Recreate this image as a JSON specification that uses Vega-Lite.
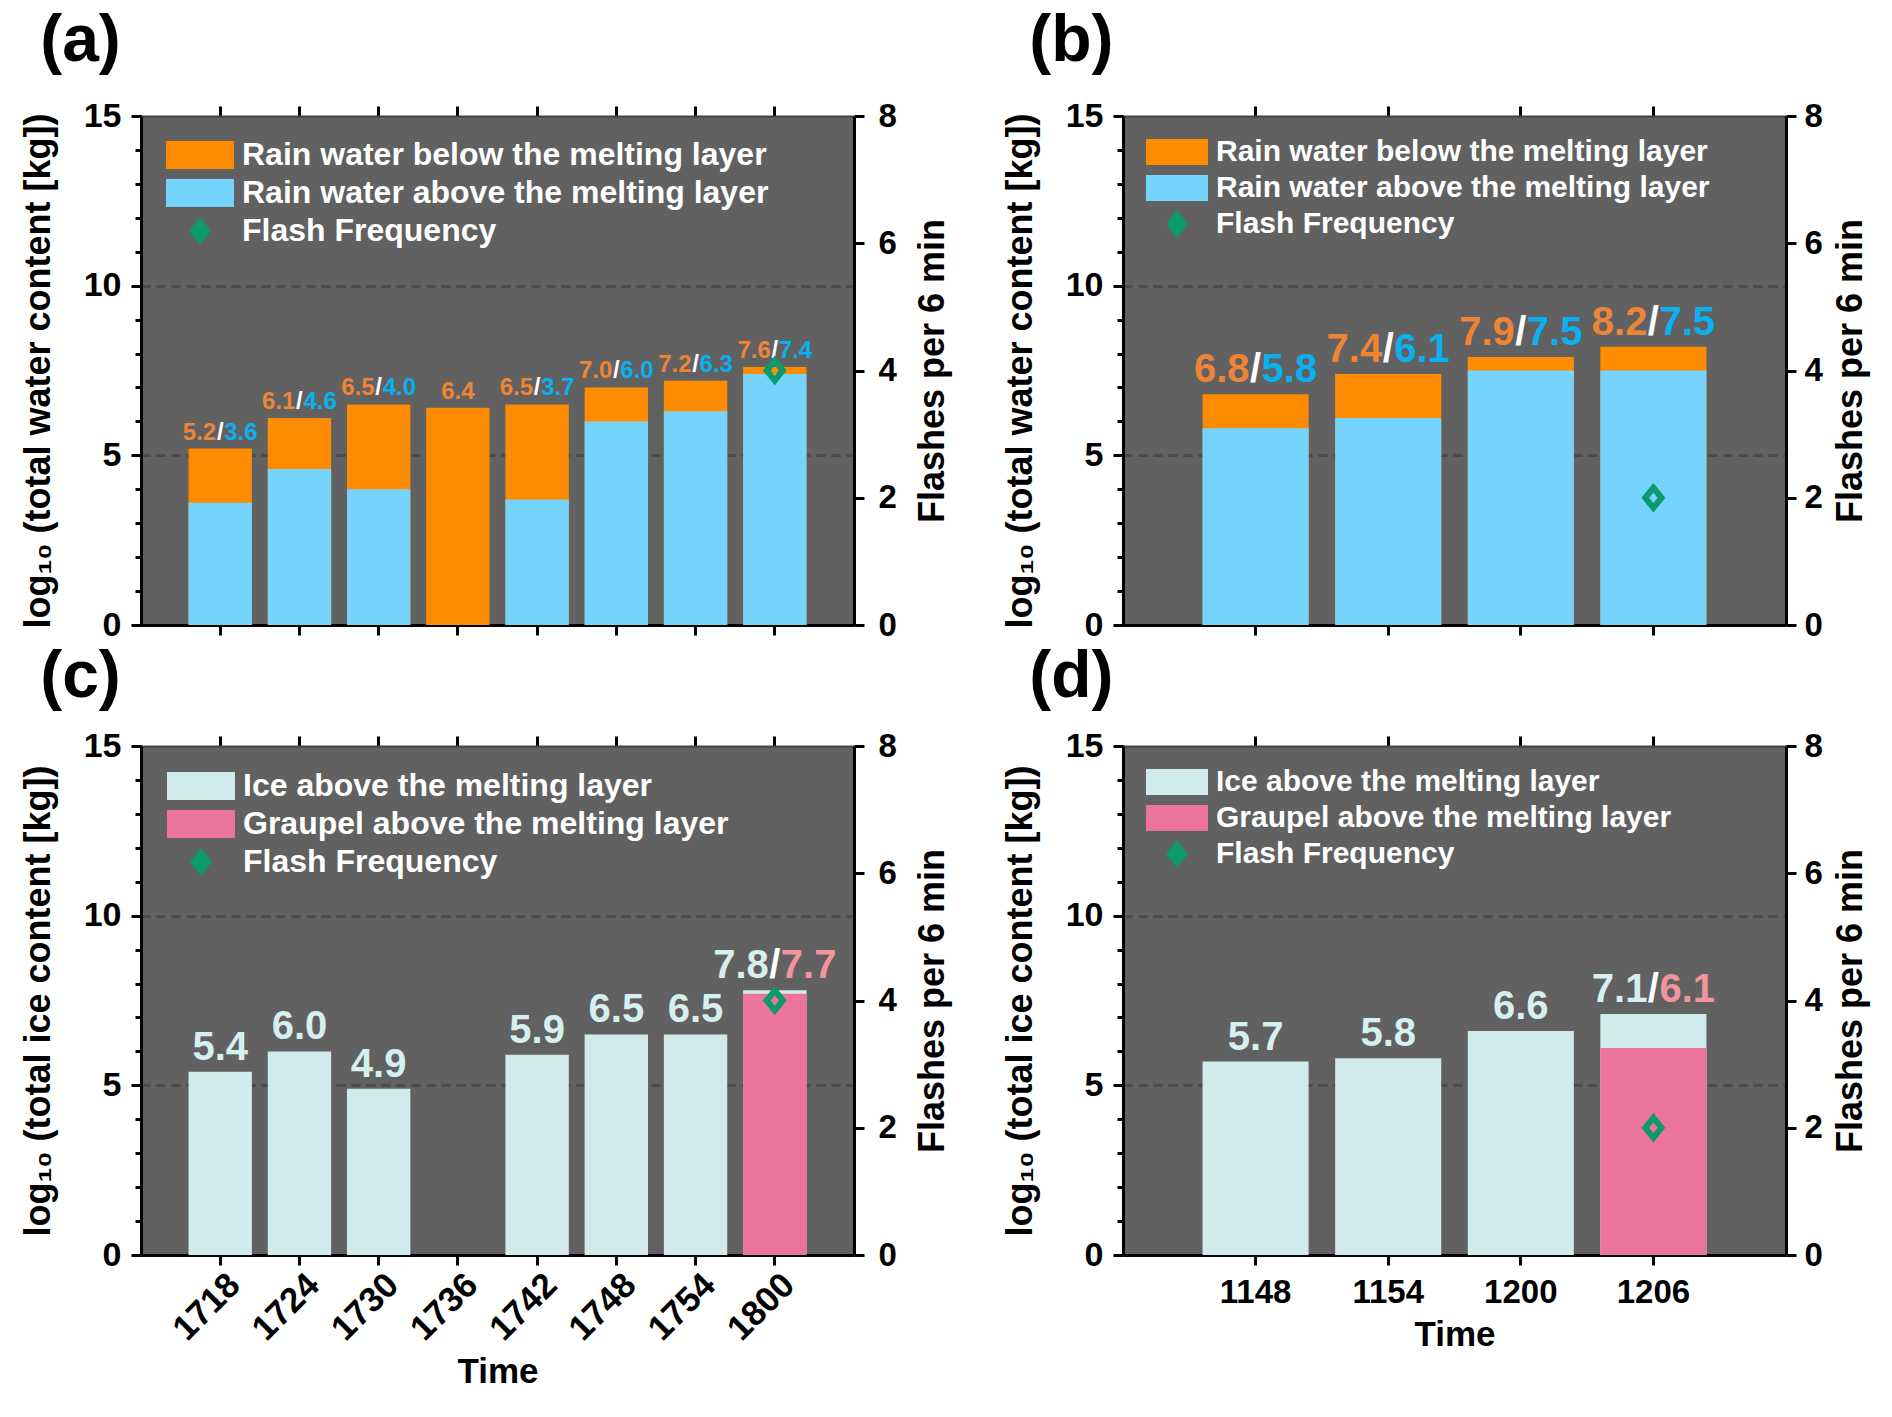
{
  "$schema": "https://vega.github.io/schema/vega-lite/v6.json",
  "background": "white",
  "padding": {"left": 20, "top": 8, "right": 5, "bottom": 5},
  "datasets": {
    "a": [
      {"time": "1718", "series": "Rain water below the melting layer", "value": 5.2},
      {"time": "1718", "series": "Rain water above the melting layer", "value": 3.6},
      {"time": "1724", "series": "Rain water below the melting layer", "value": 6.1},
      {"time": "1724", "series": "Rain water above the melting layer", "value": 4.6},
      {"time": "1730", "series": "Rain water below the melting layer", "value": 6.5},
      {"time": "1730", "series": "Rain water above the melting layer", "value": 4.0},
      {"time": "1736", "series": "Rain water below the melting layer", "value": 6.4},
      {"time": "1742", "series": "Rain water below the melting layer", "value": 6.5},
      {"time": "1742", "series": "Rain water above the melting layer", "value": 3.7},
      {"time": "1748", "series": "Rain water below the melting layer", "value": 7.0},
      {"time": "1748", "series": "Rain water above the melting layer", "value": 6.0},
      {"time": "1754", "series": "Rain water below the melting layer", "value": 7.2},
      {"time": "1754", "series": "Rain water above the melting layer", "value": 6.3},
      {"time": "1800", "series": "Rain water below the melting layer", "value": 7.6},
      {"time": "1800", "series": "Rain water above the melting layer", "value": 7.4}
    ],
    "a_flash": [{"time": "1800", "series": "Flash Frequency", "flash": 4}],
    "b": [
      {"time": "1148", "series": "Rain water below the melting layer", "value": 6.8},
      {"time": "1148", "series": "Rain water above the melting layer", "value": 5.8},
      {"time": "1154", "series": "Rain water below the melting layer", "value": 7.4},
      {"time": "1154", "series": "Rain water above the melting layer", "value": 6.1},
      {"time": "1200", "series": "Rain water below the melting layer", "value": 7.9},
      {"time": "1200", "series": "Rain water above the melting layer", "value": 7.5},
      {"time": "1206", "series": "Rain water below the melting layer", "value": 8.2},
      {"time": "1206", "series": "Rain water above the melting layer", "value": 7.5}
    ],
    "b_flash": [{"time": "1206", "series": "Flash Frequency", "flash": 2}],
    "c": [
      {"time": "1718", "series": "Ice above the melting layer", "value": 5.4},
      {"time": "1724", "series": "Ice above the melting layer", "value": 6.0},
      {"time": "1730", "series": "Ice above the melting layer", "value": 4.9},
      {"time": "1742", "series": "Ice above the melting layer", "value": 5.9},
      {"time": "1748", "series": "Ice above the melting layer", "value": 6.5},
      {"time": "1754", "series": "Ice above the melting layer", "value": 6.5},
      {"time": "1800", "series": "Ice above the melting layer", "value": 7.8},
      {"time": "1800", "series": "Graupel above the melting layer", "value": 7.7}
    ],
    "c_flash": [{"time": "1800", "series": "Flash Frequency", "flash": 4}],
    "d": [
      {"time": "1148", "series": "Ice above the melting layer", "value": 5.7},
      {"time": "1154", "series": "Ice above the melting layer", "value": 5.8},
      {"time": "1200", "series": "Ice above the melting layer", "value": 6.6},
      {"time": "1206", "series": "Ice above the melting layer", "value": 7.1},
      {"time": "1206", "series": "Graupel above the melting layer", "value": 6.1}
    ],
    "d_flash": [{"time": "1206", "series": "Flash Frequency", "flash": 2}]
  },
  "config": {
    "view": {"fill": "#616161", "stroke": null},
    "font": "Liberation Sans, Arial, sans-serif",
    "axis": {
      "labelFont": "Liberation Sans, Arial, sans-serif", "labelFontSize": 30, "labelFontWeight": "bold", "labelColor": "black",
      "titleFont": "Liberation Sans, Arial, sans-serif", "titleFontSize": 36, "titleFontWeight": "bold", "titleColor": "black",
      "domainColor": "black", "domainWidth": 3, "tickColor": "black", "tickWidth": 3, "tickSize": 10,
      "labelPadding": 10, "grid": false, "labelOverlap": false, "labelFlush": false
    }
  },
  "columns": 2,
  "spacing": {"row": 2, "column": 51},
  "resolve": {"scale": {"color": "independent"}},
  "concat": [
    {
      "width": 713, "height": 509,
      "title": {"text": "(a)", "anchor": "start", "frame": "bounds", "fontSize": 66, "fontWeight": "bold", "color": "black", "offset": 24, "dx": 20},
      "layer": [
        {
          "data": {"name": "a"},
          "transform": [{"joinaggregate": [{"op": "max", "field": "value", "as": "top"}, {"op": "count", "as": "n"}], "groupby": ["time"]}],
          "encoding": {"x": {"field": "time", "type": "nominal", "scale": {"domain": ["1718","1724","1730","1736","1742","1748","1754","1800"], "paddingInner": 0.2, "paddingOuter": 0.6}, "axis": {"orient": "bottom", "labels": false, "title": null}}},
          "layer": [
            {
              "mark": {"type": "bar"},
              "encoding": {
                "y": {"field": "value", "type": "quantitative", "stack": null, "scale": {"domain": [0, 15], "nice": false},
                  "axis": {"title": "log₁₀ (total water content [kg])", "orient": "left", "values": [0, 5, 10, 15], "labelFontSize": 34, "labelFontWeight": "bold", "titlePadding": 26}},
                "color": {"field": "series", "type": "nominal",
                  "scale": {"domain": ["Rain water below the melting layer", "Rain water above the melting layer", "Flash Frequency"], "range": ["#ff8c00", "#75d4fb", "#0b9a6c"]},
                  "legend": {"title": null, "orient": "top-left", "offset": 23, "padding": 0, "labelFontSize": 32, "labelFontWeight": "bold", "labelColor": "white", "labelLimit": 0, "symbolSize": 784, "labelOffset": 46, "rowPadding": 6,
                    "encode": {"symbols": {"update": {
                      "shape": {"signal": "datum.value === 'Flash Frequency' ? 'M1.43,-1L2.22,0L1.43,1L0.64,0Z' : 'M-1,-1H3.857V1H-1Z'"},
                      "size": {"value": 784},
                      "fill": {"signal": "datum.value === 'Rain water below the melting layer' ? '#ff8c00' : datum.value === 'Rain water above the melting layer' ? '#75d4fb' : '#0b9a6c'"},
                      "fillOpacity": {"value": 1}, "strokeWidth": {"value": 0}, "opacity": {"value": 1}}}}}}
              }
            },
            {
              "transform": [{"filter": "datum.series === 'Rain water below the melting layer' && datum.n === 1"}],
              "mark": {"type": "text", "align": "center", "baseline": "alphabetic", "dy": -9, "fontSize": 24, "fontWeight": "bold", "color": "#ee8536"},
              "encoding": {"y": {"field": "top", "type": "quantitative", "scale": {"domain": [0, 15], "nice": false}, "axis": null}, "text": {"field": "value", "type": "quantitative", "format": ".1f"}}
            },
            {
              "transform": [{"filter": "datum.series === 'Rain water below the melting layer' && datum.n === 2"}],
              "mark": {"type": "text", "align": "right", "baseline": "alphabetic", "dx": -4, "dy": -9, "fontSize": 24, "fontWeight": "bold", "color": "#ee8536"},
              "encoding": {"y": {"field": "top", "type": "quantitative", "scale": {"domain": [0, 15], "nice": false}, "axis": {"orient": "left", "values": [5, 10], "labels": false, "domain": false, "ticks": false, "title": null, "grid": true, "gridDash": [9, 6], "gridColor": "#4b4b4b", "gridWidth": 3}}, "text": {"field": "value", "type": "quantitative", "format": ".1f"}}
            },
            {
              "transform": [{"filter": "datum.series === 'Rain water below the melting layer' && datum.n === 2"}],
              "mark": {"type": "text", "align": "center", "baseline": "alphabetic", "dy": -9, "fontSize": 24, "fontWeight": "bold", "color": "white"},
              "encoding": {"y": {"field": "top", "type": "quantitative", "scale": {"domain": [0, 15], "nice": false}, "axis": {"orient": "left", "values": [0,1,2,3,4,5,6,7,8,9,10,11,12,13,14,15], "labels": false, "domain": false, "tickSize": 6, "title": null, "grid": false}}, "text": {"value": "/"}}
            },
            {
              "transform": [{"filter": "datum.series === 'Rain water above the melting layer'"}],
              "mark": {"type": "text", "align": "left", "baseline": "alphabetic", "dx": 4, "dy": -9, "fontSize": 24, "fontWeight": "bold", "color": "#0ab0f0"},
              "encoding": {"y": {"field": "top", "type": "quantitative", "scale": {"domain": [0, 15], "nice": false}, "axis": null}, "text": {"field": "value", "type": "quantitative", "format": ".1f"}}
            }
          ],
          "resolve": {"axis": {"y": "independent"}}
        },
        {
          "data": {"name": "a_flash"},
          "mark": {"type": "point", "shape": "M0,-0.72L0.58,0L0,0.72L-0.58,0Z", "size": 784, "filled": false, "strokeWidth": 6, "opacity": 1},
          "encoding": {
            "x": {"field": "time", "type": "nominal", "axis": {"orient": "top", "labels": false, "title": null, "domainColor": "#444444", "domainWidth": 2}},
            "y": {"field": "flash", "type": "quantitative", "scale": {"domain": [0, 8], "nice": false}, "axis": {"orient": "right", "values": [0, 2, 4, 6, 8], "labelFontSize": 33, "labelPadding": 14, "title": "Flashes per 6 min", "titleAngle": 270, "titleBaseline": "top", "titlePadding": 19}},
            "color": {"field": "series", "type": "nominal"}
          }
        }
      ],
      "resolve": {"scale": {"y": "independent"}, "axis": {"x": "independent", "y": "independent"}}
    },
    {
      "width": 663, "height": 509,
      "title": {"text": "(b)", "anchor": "start", "frame": "bounds", "fontSize": 66, "fontWeight": "bold", "color": "black", "offset": 24, "dx": 27},
      "layer": [
        {
          "data": {"name": "b"},
          "transform": [{"joinaggregate": [{"op": "max", "field": "value", "as": "top"}, {"op": "count", "as": "n"}], "groupby": ["time"]}],
          "encoding": {"x": {"field": "time", "type": "nominal", "scale": {"domain": ["1148","1154","1200","1206"], "paddingInner": 0.2, "paddingOuter": 0.6}, "axis": {"orient": "bottom", "labels": false, "title": null}}},
          "layer": [
            {
              "mark": {"type": "bar"},
              "encoding": {
                "y": {"field": "value", "type": "quantitative", "stack": null, "scale": {"domain": [0, 15], "nice": false},
                  "axis": {"title": "log₁₀ (total water content [kg])", "orient": "left", "values": [0, 5, 10, 15], "labelFontSize": 34, "labelFontWeight": "bold", "titlePadding": 26}},
                "color": {"field": "series", "type": "nominal",
                  "scale": {"domain": ["Rain water below the melting layer", "Rain water above the melting layer", "Flash Frequency"], "range": ["#ff8c00", "#75d4fb", "#0b9a6c"]},
                  "legend": {"title": null, "orient": "top-left", "offset": 21, "padding": 0, "labelFontSize": 30, "labelFontWeight": "bold", "labelColor": "white", "labelLimit": 0, "symbolSize": 676, "labelOffset": 42, "rowPadding": 6,
                    "encode": {"symbols": {"update": {
                      "shape": {"signal": "datum.value === 'Flash Frequency' ? 'M1.385,-1.077L2.23,0L1.385,1.077L0.54,0Z' : 'M-1,-1H3.77V1H-1Z'"},
                      "size": {"value": 676},
                      "fill": {"signal": "datum.value === 'Rain water below the melting layer' ? '#ff8c00' : datum.value === 'Rain water above the melting layer' ? '#75d4fb' : '#0b9a6c'"},
                      "fillOpacity": {"value": 1}, "strokeWidth": {"value": 0}, "opacity": {"value": 1}}}}}}
              }
            },
            {
              "transform": [{"filter": "datum.series === 'Rain water below the melting layer' && datum.n === 1"}],
              "mark": {"type": "text", "align": "center", "baseline": "alphabetic", "dy": -12, "fontSize": 40, "fontWeight": "bold", "color": "#ee8536"},
              "encoding": {"y": {"field": "top", "type": "quantitative", "scale": {"domain": [0, 15], "nice": false}, "axis": null}, "text": {"field": "value", "type": "quantitative", "format": ".1f"}}
            },
            {
              "transform": [{"filter": "datum.series === 'Rain water below the melting layer' && datum.n === 2"}],
              "mark": {"type": "text", "align": "right", "baseline": "alphabetic", "dx": -6, "dy": -12, "fontSize": 40, "fontWeight": "bold", "color": "#ee8536"},
              "encoding": {"y": {"field": "top", "type": "quantitative", "scale": {"domain": [0, 15], "nice": false}, "axis": {"orient": "left", "values": [5, 10], "labels": false, "domain": false, "ticks": false, "title": null, "grid": true, "gridDash": [9, 6], "gridColor": "#4b4b4b", "gridWidth": 3}}, "text": {"field": "value", "type": "quantitative", "format": ".1f"}}
            },
            {
              "transform": [{"filter": "datum.series === 'Rain water below the melting layer' && datum.n === 2"}],
              "mark": {"type": "text", "align": "center", "baseline": "alphabetic", "dy": -12, "fontSize": 40, "fontWeight": "bold", "color": "white"},
              "encoding": {"y": {"field": "top", "type": "quantitative", "scale": {"domain": [0, 15], "nice": false}, "axis": {"orient": "left", "values": [0,1,2,3,4,5,6,7,8,9,10,11,12,13,14,15], "labels": false, "domain": false, "tickSize": 6, "title": null, "grid": false}}, "text": {"value": "/"}}
            },
            {
              "transform": [{"filter": "datum.series === 'Rain water above the melting layer'"}],
              "mark": {"type": "text", "align": "left", "baseline": "alphabetic", "dx": 6, "dy": -12, "fontSize": 40, "fontWeight": "bold", "color": "#0ab0f0"},
              "encoding": {"y": {"field": "top", "type": "quantitative", "scale": {"domain": [0, 15], "nice": false}, "axis": null}, "text": {"field": "value", "type": "quantitative", "format": ".1f"}}
            }
          ],
          "resolve": {"axis": {"y": "independent"}}
        },
        {
          "data": {"name": "b_flash"},
          "mark": {"type": "point", "shape": "M0,-0.72L0.58,0L0,0.72L-0.58,0Z", "size": 784, "filled": false, "strokeWidth": 6, "opacity": 1},
          "encoding": {
            "x": {"field": "time", "type": "nominal", "axis": {"orient": "top", "labels": false, "title": null, "domainColor": "#444444", "domainWidth": 2}},
            "y": {"field": "flash", "type": "quantitative", "scale": {"domain": [0, 8], "nice": false}, "axis": {"orient": "right", "values": [0, 2, 4, 6, 8], "labelFontSize": 33, "labelPadding": 8, "title": "Flashes per 6 min", "titleAngle": 270, "titleBaseline": "top", "titlePadding": 11}},
            "color": {"field": "series", "type": "nominal"}
          }
        }
      ],
      "resolve": {"scale": {"y": "independent"}, "axis": {"x": "independent", "y": "independent"}}
    },
    {
      "width": 713, "height": 509,
      "title": {"text": "(c)", "anchor": "start", "frame": "bounds", "fontSize": 66, "fontWeight": "bold", "color": "black", "offset": 18, "dx": 20},
      "layer": [
        {
          "data": {"name": "c"},
          "transform": [{"joinaggregate": [{"op": "max", "field": "value", "as": "top"}, {"op": "count", "as": "n"}], "groupby": ["time"]}],
          "encoding": {"x": {"field": "time", "type": "nominal", "scale": {"domain": ["1718","1724","1730","1736","1742","1748","1754","1800"], "paddingInner": 0.2, "paddingOuter": 0.6}, "axis": {"orient": "bottom", "labelAngle": -45, "labelPadding": 2, "labelOffset": 2, "labelFontSize": 35, "title": "Time", "titlePadding": 8, "titleFontSize": 35}}},
          "layer": [
            {
              "mark": {"type": "bar"},
              "encoding": {
                "y": {"field": "value", "type": "quantitative", "stack": null, "scale": {"domain": [0, 15], "nice": false},
                  "axis": {"title": "log₁₀ (total ice content [kg])", "orient": "left", "values": [0, 5, 10, 15], "labelFontSize": 34, "labelFontWeight": "bold", "titlePadding": 26}},
                "color": {"field": "series", "type": "nominal",
                  "scale": {"domain": ["Ice above the melting layer", "Graupel above the melting layer", "Flash Frequency"], "range": ["#d1ebec", "#eb759a", "#0b9a6c"]},
                  "legend": {"title": null, "orient": "top-left", "offset": 24, "padding": 0, "labelFontSize": 32, "labelFontWeight": "bold", "labelColor": "white", "labelLimit": 0, "symbolSize": 784, "labelOffset": 46, "rowPadding": 6,
                    "encode": {"symbols": {"update": {
                      "shape": {"signal": "datum.value === 'Flash Frequency' ? 'M1.43,-1L2.22,0L1.43,1L0.64,0Z' : 'M-1,-1H3.857V1H-1Z'"},
                      "size": {"value": 784},
                      "fill": {"signal": "datum.value === 'Ice above the melting layer' ? '#d1ebec' : datum.value === 'Graupel above the melting layer' ? '#eb759a' : '#0b9a6c'"},
                      "fillOpacity": {"value": 1}, "strokeWidth": {"value": 0}, "opacity": {"value": 1}}}}}}
              }
            },
            {
              "transform": [{"filter": "datum.series === 'Ice above the melting layer' && datum.n === 1"}],
              "mark": {"type": "text", "align": "center", "baseline": "alphabetic", "dy": -12, "fontSize": 40, "fontWeight": "bold", "color": "#d5f0ef"},
              "encoding": {"y": {"field": "top", "type": "quantitative", "scale": {"domain": [0, 15], "nice": false}, "axis": null}, "text": {"field": "value", "type": "quantitative", "format": ".1f"}}
            },
            {
              "transform": [{"filter": "datum.series === 'Ice above the melting layer' && datum.n === 2"}],
              "mark": {"type": "text", "align": "right", "baseline": "alphabetic", "dx": -6, "dy": -12, "fontSize": 40, "fontWeight": "bold", "color": "#d5f0ef"},
              "encoding": {"y": {"field": "top", "type": "quantitative", "scale": {"domain": [0, 15], "nice": false}, "axis": {"orient": "left", "values": [5, 10], "labels": false, "domain": false, "ticks": false, "title": null, "grid": true, "gridDash": [9, 6], "gridColor": "#4b4b4b", "gridWidth": 3}}, "text": {"field": "value", "type": "quantitative", "format": ".1f"}}
            },
            {
              "transform": [{"filter": "datum.series === 'Ice above the melting layer' && datum.n === 2"}],
              "mark": {"type": "text", "align": "center", "baseline": "alphabetic", "dy": -12, "fontSize": 40, "fontWeight": "bold", "color": "white"},
              "encoding": {"y": {"field": "top", "type": "quantitative", "scale": {"domain": [0, 15], "nice": false}, "axis": {"orient": "left", "values": [0,1,2,3,4,5,6,7,8,9,10,11,12,13,14,15], "labels": false, "domain": false, "tickSize": 6, "title": null, "grid": false}}, "text": {"value": "/"}}
            },
            {
              "transform": [{"filter": "datum.series === 'Graupel above the melting layer'"}],
              "mark": {"type": "text", "align": "left", "baseline": "alphabetic", "dx": 6, "dy": -12, "fontSize": 40, "fontWeight": "bold", "color": "#f2949c"},
              "encoding": {"y": {"field": "top", "type": "quantitative", "scale": {"domain": [0, 15], "nice": false}, "axis": null}, "text": {"field": "value", "type": "quantitative", "format": ".1f"}}
            }
          ],
          "resolve": {"axis": {"y": "independent"}}
        },
        {
          "data": {"name": "c_flash"},
          "mark": {"type": "point", "shape": "M0,-0.72L0.58,0L0,0.72L-0.58,0Z", "size": 784, "filled": false, "strokeWidth": 6, "opacity": 1},
          "encoding": {
            "x": {"field": "time", "type": "nominal", "axis": {"orient": "top", "labels": false, "title": null, "domainColor": "#444444", "domainWidth": 2}},
            "y": {"field": "flash", "type": "quantitative", "scale": {"domain": [0, 8], "nice": false}, "axis": {"orient": "right", "values": [0, 2, 4, 6, 8], "labelFontSize": 33, "labelPadding": 14, "title": "Flashes per 6 min", "titleAngle": 270, "titleBaseline": "top", "titlePadding": 19}},
            "color": {"field": "series", "type": "nominal"}
          }
        }
      ],
      "resolve": {"scale": {"y": "independent"}, "axis": {"x": "independent", "y": "independent"}}
    },
    {
      "width": 663, "height": 509,
      "title": {"text": "(d)", "anchor": "start", "frame": "bounds", "fontSize": 66, "fontWeight": "bold", "color": "black", "offset": 18, "dx": 27},
      "layer": [
        {
          "data": {"name": "d"},
          "transform": [{"joinaggregate": [{"op": "max", "field": "value", "as": "top"}, {"op": "count", "as": "n"}], "groupby": ["time"]}],
          "encoding": {"x": {"field": "time", "type": "nominal", "scale": {"domain": ["1148","1154","1200","1206"], "paddingInner": 0.2, "paddingOuter": 0.6}, "axis": {"orient": "bottom", "labelAngle": 0, "labelPadding": 11, "labelFontSize": 33, "title": "Time", "titlePadding": 8, "titleFontSize": 35}}},
          "layer": [
            {
              "mark": {"type": "bar"},
              "encoding": {
                "y": {"field": "value", "type": "quantitative", "stack": null, "scale": {"domain": [0, 15], "nice": false},
                  "axis": {"title": "log₁₀ (total ice content [kg])", "orient": "left", "values": [0, 5, 10, 15], "labelFontSize": 34, "labelFontWeight": "bold", "titlePadding": 26}},
                "color": {"field": "series", "type": "nominal",
                  "scale": {"domain": ["Ice above the melting layer", "Graupel above the melting layer", "Flash Frequency"], "range": ["#d1ebec", "#eb759a", "#0b9a6c"]},
                  "legend": {"title": null, "orient": "top-left", "offset": 21, "padding": 0, "labelFontSize": 30, "labelFontWeight": "bold", "labelColor": "white", "labelLimit": 0, "symbolSize": 676, "labelOffset": 42, "rowPadding": 6,
                    "encode": {"symbols": {"update": {
                      "shape": {"signal": "datum.value === 'Flash Frequency' ? 'M1.385,-1.077L2.23,0L1.385,1.077L0.54,0Z' : 'M-1,-1H3.77V1H-1Z'"},
                      "size": {"value": 676},
                      "fill": {"signal": "datum.value === 'Ice above the melting layer' ? '#d1ebec' : datum.value === 'Graupel above the melting layer' ? '#eb759a' : '#0b9a6c'"},
                      "fillOpacity": {"value": 1}, "strokeWidth": {"value": 0}, "opacity": {"value": 1}}}}}}
              }
            },
            {
              "transform": [{"filter": "datum.series === 'Ice above the melting layer' && datum.n === 1"}],
              "mark": {"type": "text", "align": "center", "baseline": "alphabetic", "dy": -12, "fontSize": 40, "fontWeight": "bold", "color": "#d5f0ef"},
              "encoding": {"y": {"field": "top", "type": "quantitative", "scale": {"domain": [0, 15], "nice": false}, "axis": null}, "text": {"field": "value", "type": "quantitative", "format": ".1f"}}
            },
            {
              "transform": [{"filter": "datum.series === 'Ice above the melting layer' && datum.n === 2"}],
              "mark": {"type": "text", "align": "right", "baseline": "alphabetic", "dx": -6, "dy": -12, "fontSize": 40, "fontWeight": "bold", "color": "#d5f0ef"},
              "encoding": {"y": {"field": "top", "type": "quantitative", "scale": {"domain": [0, 15], "nice": false}, "axis": {"orient": "left", "values": [5, 10], "labels": false, "domain": false, "ticks": false, "title": null, "grid": true, "gridDash": [9, 6], "gridColor": "#4b4b4b", "gridWidth": 3}}, "text": {"field": "value", "type": "quantitative", "format": ".1f"}}
            },
            {
              "transform": [{"filter": "datum.series === 'Ice above the melting layer' && datum.n === 2"}],
              "mark": {"type": "text", "align": "center", "baseline": "alphabetic", "dy": -12, "fontSize": 40, "fontWeight": "bold", "color": "white"},
              "encoding": {"y": {"field": "top", "type": "quantitative", "scale": {"domain": [0, 15], "nice": false}, "axis": {"orient": "left", "values": [0,1,2,3,4,5,6,7,8,9,10,11,12,13,14,15], "labels": false, "domain": false, "tickSize": 6, "title": null, "grid": false}}, "text": {"value": "/"}}
            },
            {
              "transform": [{"filter": "datum.series === 'Graupel above the melting layer'"}],
              "mark": {"type": "text", "align": "left", "baseline": "alphabetic", "dx": 6, "dy": -12, "fontSize": 40, "fontWeight": "bold", "color": "#f2949c"},
              "encoding": {"y": {"field": "top", "type": "quantitative", "scale": {"domain": [0, 15], "nice": false}, "axis": null}, "text": {"field": "value", "type": "quantitative", "format": ".1f"}}
            }
          ],
          "resolve": {"axis": {"y": "independent"}}
        },
        {
          "data": {"name": "d_flash"},
          "mark": {"type": "point", "shape": "M0,-0.72L0.58,0L0,0.72L-0.58,0Z", "size": 784, "filled": false, "strokeWidth": 6, "opacity": 1},
          "encoding": {
            "x": {"field": "time", "type": "nominal", "axis": {"orient": "top", "labels": false, "title": null, "domainColor": "#444444", "domainWidth": 2}},
            "y": {"field": "flash", "type": "quantitative", "scale": {"domain": [0, 8], "nice": false}, "axis": {"orient": "right", "values": [0, 2, 4, 6, 8], "labelFontSize": 33, "labelPadding": 8, "title": "Flashes per 6 min", "titleAngle": 270, "titleBaseline": "top", "titlePadding": 11}},
            "color": {"field": "series", "type": "nominal"}
          }
        }
      ],
      "resolve": {"scale": {"y": "independent"}, "axis": {"x": "independent", "y": "independent"}}
    }
  ]
}
